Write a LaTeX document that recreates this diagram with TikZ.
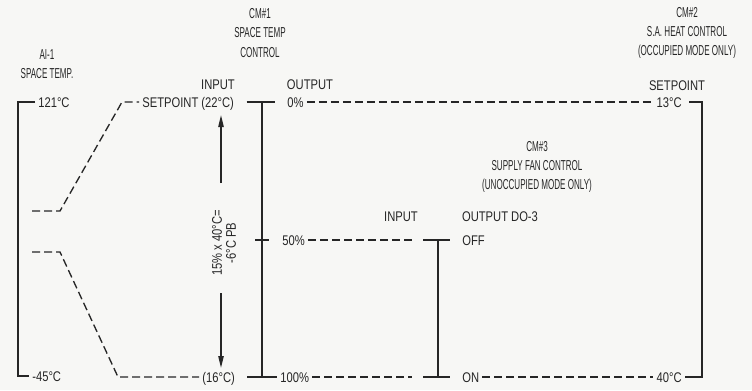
\documentclass[tikz,border=0pt]{standalone}
\usepackage{fontspec}
\setmainfont{Liberation Sans}[FakeStretch=0.56]
\newfontfamily\lblfont{Liberation Sans}[FakeStretch=0.8]
\usetikzlibrary{arrows.meta, calc}
\definecolor{cink}{HTML}{262626}
\definecolor{cpaper}{HTML}{F7F7F5}
\tikzset{
  every picture/.style={line width=1pt},
  lbl/.style={text=cink, inner sep=2pt, font=\lblfont\fontsize{10.5}{12}\selectfont, text height=7.6pt, text depth=0pt},
  ttl/.style={text=cink, align=center, inner sep=0pt, font=\fontsize{10.8}{14.5}\selectfont},
  wire/.style={draw=cink, line width=1pt},
  dline/.style={draw=cink, line width=1pt, dash pattern=on 6pt off 3pt},
  arr/.style={-{Triangle[length=9pt, width=4pt]}, draw=cink, line width=1pt},
}
\begin{document}
\begin{tikzpicture}[x=0.75pt, y=-0.75pt,
  pbnote/.style={text=cink, align=center, inner sep=0pt, rotate=90, font=\lblfont\fontsize{10.5}{10.5}\selectfont}]
  \fill[cpaper] (0,0) rectangle (752,390);
  % titles
  \node[ttl] (ai) at (47,64) {AI-1\\SPACE TEMP.};
  \node[ttl] (cm1) at (260,33) {CM\#1\\SPACE TEMP\\CONTROL};
  \node[ttl] (cm2) at (687,33) {CM\#2\\S.A. HEAT CONTROL\\(OCCUPIED MODE ONLY)};
  \node[ttl] (cm3) at (537,167) {CM\#3\\SUPPLY FAN CONTROL\\(UNOCCUPIED MODE ONLY)};
  \node[lbl] (in1) at (218,84) {INPUT};
  \node[lbl] (out1) at (310,84) {OUTPUT};
  \node[lbl] (sp2) at (677,85) {SETPOINT};
  \node[lbl] (in3) at (401,216) {INPUT};
  \node[lbl] (out3) at (500,216) {OUTPUT DO-3};
  % row labels
  \node[lbl, anchor=west] (t121) at (35,102) {121°C};
  \node[lbl, anchor=west] (sp1) at (139,102) {SETPOINT (22°C)};
  \node[lbl, anchor=west] (p0) at (284,102) {0\%};
  \node[lbl, anchor=east] (t13) at (685,102) {13°C};
  \node[lbl, anchor=west] (p50) at (279,240) {50\%};
  \node[lbl, anchor=west] (off) at (459,240) {OFF};
  \node[lbl, anchor=west] (t45) at (29,376) {-45°C};
  \node[lbl, anchor=west] (t16) at (199,377) {(16°C)};
  \node[lbl, anchor=west] (p100) at (277,377) {100\%};
  \node[lbl, anchor=west] (on) at (459,377) {ON};
  \node[lbl, anchor=east] (t40) at (685,377) {40°C};
  \node[pbnote] (pb) at (224,243) {15\% x 40°C=\\-6°C PB};
  % bend points
  \coordinate (lt) at (18,102);
  \coordinate (lb) at (18,376);
  \coordinate (ua) at (32,211);
  \coordinate (ub) at (60,211);
  \coordinate (uc) at (122,102);
  \coordinate (la) at (32,252);
  \coordinate (lb2) at (60,252);
  \coordinate (lc) at (118,377);
  \coordinate (c1t) at (262,102);
  \coordinate (c1m) at (262,240);
  \coordinate (c1b) at (262,377);
  \coordinate (o3t) at (438,240);
  \coordinate (o3b) at (438,377);
  \coordinate (rt) at (702,102);
  \coordinate (rb) at (702,377);
  \coordinate (au) at (221,115);
  \coordinate (au0) at (221,183);
  \coordinate (ad) at (221,368);
  \coordinate (ad0) at (221,293);
  % AI-1 range
  \draw[wire] (t121) -- (lt) -- (lb) -- (t45);
  \draw[dline] (ua) -- (ub) -- (uc) -- (sp1);
  \draw[dline] (la) -- (lb2) -- (lc) -- (t16);
  % CM#1
  \draw[wire, shorten <=7pt, shorten >=7pt] (sp1) -- (p0);
  \draw[wire, shorten <=7pt] (t16) -- (p100);
  \draw[wire] (c1t) -- (c1b);
  \draw[wire] ($(c1m)+(-7,0)$) -- ($(c1m)+(7,0)$);
  \draw[arr] (au0) -- (au);
  \draw[arr] (ad0) -- (ad);
  % CM#2
  \draw[dline] (p0) -- (t13);
  \draw[wire, shorten <=3pt] (t13) -- (rt) -- (rb) -- (t40);
  \draw[dline] (on) -- (t40);
  % CM#3
  \draw[dline] (p50) -- ($(o3t)+(-26,0)$);
  \draw[dline] (p100) -- ($(o3b)+(-26,0)$);
  \draw[wire] ($(o3t)+(-15,0)$) -- ($(o3t)+(12,0)$);
  \draw[wire] ($(o3b)+(-15,0)$) -- ($(o3b)+(12,0)$);
  \draw[wire] (o3t) -- (o3b);
\end{tikzpicture}
\end{document}
